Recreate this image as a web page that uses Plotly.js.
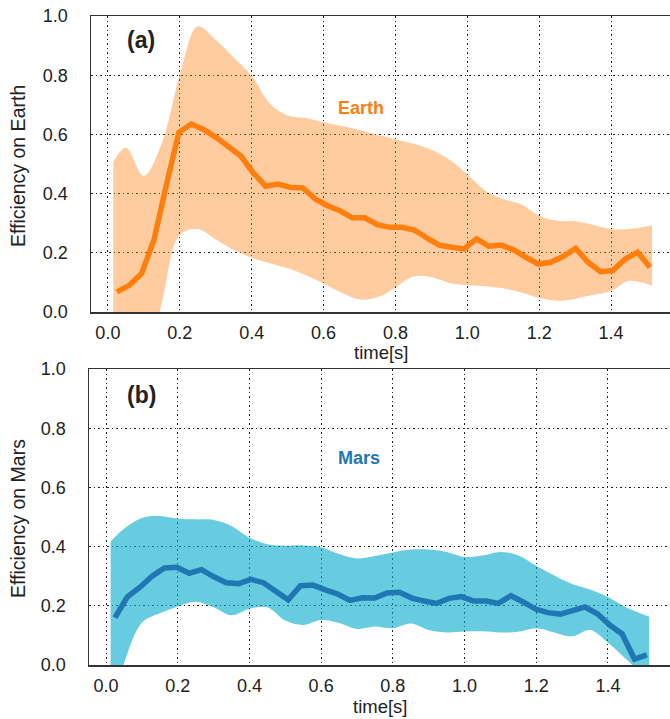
<!DOCTYPE html>
<html>
<head>
<meta charset="utf-8">
<script src="https://cdn.plot.ly/plotly-3.0.1.min.js"></script>
<style>html,body{margin:0;padding:0;background:#fff;}#chart{width:670px;height:719px;}</style>
</head>
<body>
<div id="chart"></div>
<script>
// time samples of the mean curves
var timeMean = [0.025,0.0595,0.094,0.1285,0.163,0.1975,0.232,0.2665,0.301,0.3355,0.370,0.4045,0.439,0.4735,0.508,0.5425,0.577,0.6115,0.646,0.6805,0.715,0.7495,0.784,0.8185,0.853,0.8875,0.922,0.9565,0.991,1.0255,1.060,1.0945,1.129,1.1635,1.198,1.2325,1.267,1.3015,1.336,1.3705,1.405,1.4395,1.474,1.5085];
var earthMean = [0.068,0.09,0.13,0.245,0.43,0.607,0.635,0.617,0.59,0.56,0.527,0.47,0.425,0.432,0.421,0.419,0.382,0.359,0.342,0.318,0.318,0.295,0.286,0.286,0.277,0.25,0.226,0.219,0.213,0.247,0.222,0.226,0.21,0.185,0.162,0.168,0.188,0.215,0.168,0.136,0.14,0.179,0.202,0.151];
var marsMean = [0.16,0.23,0.262,0.3,0.328,0.33,0.31,0.322,0.298,0.278,0.275,0.289,0.278,0.25,0.22,0.268,0.27,0.254,0.24,0.218,0.227,0.226,0.243,0.246,0.226,0.216,0.208,0.225,0.231,0.216,0.216,0.208,0.234,0.213,0.189,0.177,0.172,0.184,0.196,0.173,0.135,0.105,0.02,0.034];

// band (spread) samples
var timeBandEarth = [0.015,0.05,0.1,0.15,0.2,0.25,0.3,0.35,0.4,0.45,0.5,0.55,0.6,0.65,0.7,0.75,0.8,0.85,0.9,0.95,1.0,1.05,1.1,1.15,1.2,1.25,1.3,1.35,1.4,1.45,1.514];
var earthUpper = [0.506,0.556,0.46,0.57,0.80,0.965,0.92,0.86,0.798,0.705,0.664,0.655,0.641,0.628,0.615,0.598,0.584,0.568,0.548,0.515,0.465,0.41,0.382,0.364,0.325,0.308,0.307,0.295,0.28,0.28,0.292];
var earthLower = [-0.5,-0.4,-0.23,0.03,0.26,0.28,0.245,0.21,0.183,0.165,0.148,0.125,0.096,0.065,0.042,0.05,0.083,0.12,0.118,0.098,0.09,0.087,0.08,0.066,0.048,0.038,0.045,0.058,0.072,0.105,0.089];

var timeBandMars = [0.013,0.05,0.1,0.15,0.2,0.25,0.3,0.35,0.4,0.45,0.5,0.55,0.6,0.65,0.7,0.75,0.8,0.85,0.9,0.95,1.0,1.05,1.1,1.15,1.2,1.25,1.3,1.35,1.4,1.45,1.515];
var marsUpper = [0.417,0.46,0.497,0.503,0.494,0.492,0.49,0.47,0.43,0.408,0.403,0.404,0.398,0.375,0.36,0.368,0.38,0.39,0.39,0.382,0.365,0.37,0.382,0.37,0.335,0.302,0.274,0.255,0.23,0.195,0.163];
var marsLower = [-0.15,0.005,0.143,0.175,0.198,0.214,0.195,0.168,0.19,0.195,0.15,0.135,0.152,0.142,0.122,0.13,0.124,0.14,0.118,0.11,0.113,0.114,0.11,0.112,0.124,0.11,0.097,0.118,0.075,0.02,-0.05];

var xTicks = [0,0.2,0.4,0.6,0.8,1.0,1.2,1.4];
var yTicks = [0,0.2,0.4,0.6,0.8,1.0];

var orange = '#ff7f0e', orangeFill = 'rgba(255,127,14,0.4)';
var blue = '#1f77b4', blueFill = 'rgba(2,170,203,0.6)';
var FONT = 'Liberation Sans, Arial, Helvetica, sans-serif';

var traces = [
  {x: timeBandEarth, y: earthLower, xaxis:'x', yaxis:'y', mode:'lines', line:{width:0, shape:'spline', smoothing:1}, hoverinfo:'skip', showlegend:false},
  {x: timeBandEarth, y: earthUpper, xaxis:'x', yaxis:'y', mode:'lines', fill:'tonexty', fillcolor: orangeFill, line:{width:0, shape:'spline', smoothing:1}, hoverinfo:'skip', showlegend:false},
  {x: timeMean, y: earthMean, xaxis:'x', yaxis:'y', mode:'lines', line:{color: orange, width:5.5}, showlegend:false, name:'Earth'},
  {x: timeBandMars, y: marsLower, xaxis:'x2', yaxis:'y2', mode:'lines', line:{width:0, shape:'spline', smoothing:1}, hoverinfo:'skip', showlegend:false},
  {x: timeBandMars, y: marsUpper, xaxis:'x2', yaxis:'y2', mode:'lines', fill:'tonexty', fillcolor: blueFill, line:{width:0, shape:'spline', smoothing:1}, hoverinfo:'skip', showlegend:false},
  {x: timeMean, y: marsMean, xaxis:'x2', yaxis:'y2', mode:'lines', line:{color: blue, width:5.5}, showlegend:false, name:'Mars'}
];

function xAxis(domain, range, anchor){
  return {domain: domain, range: range, anchor: anchor, tickvals: xTicks, tickformat: '.1f',
    showgrid: true, gridcolor: '#222', gridwidth: 1, griddash: '1.5px,3px', zeroline: false,
    showline: true, linecolor: '#333', linewidth: 1.5, mirror: true, ticks: '', ticklabelstandoff: 4,
    tickfont: {family: FONT, size: 18, color: '#222'}};
}
function yAxis(domain, anchor){
  return {domain: domain, range: [0, 1], anchor: anchor, tickvals: yTicks, tickformat: '.1f',
    showgrid: true, gridcolor: '#222', gridwidth: 1, griddash: '1.5px,3px', zeroline: false,
    showline: true, linecolor: '#333', linewidth: 1.5, mirror: false, ticks: '', ticklabelstandoff: 18,
    tickfont: {family: FONT, size: 18, color: '#222'}};
}

var layout = {
  width: 670, height: 719,
  margin: {l: 0, r: 0, t: 0, b: 0},
  paper_bgcolor: '#fff', plot_bgcolor: '#fff',
  font: {family: FONT, size: 18, color: '#222'},
  showlegend: false,
  xaxis: xAxis([91/670, 1], [-0.047, 1.564], 'y'),
  yaxis: yAxis([1 - 312/719, 1 - 16/719], 'x'),
  xaxis2: xAxis([89/670, 1], [-0.0474, 1.573], 'y2'),
  yaxis2: yAxis([1 - 665/719, 1 - 369/719], 'x2'),
  annotations: [
    {text: '(a)', xref:'paper', yref:'paper', x: 141/670, y: 1 - 40/719, xanchor:'center', yanchor:'middle', showarrow:false, font:{family: FONT, size: 23, color:'#222', weight: 'bold'}},
    {text: '(b)', xref:'paper', yref:'paper', x: 141/670, y: 1 - 395/719, xanchor:'center', yanchor:'middle', showarrow:false, font:{family: FONT, size: 23, color:'#222', weight: 'bold'}},
    {text: 'Earth', xref:'paper', yref:'paper', x: 361/670, y: 1 - 108/719, xanchor:'center', yanchor:'middle', showarrow:false, font:{family: FONT, size: 18, color: orange, weight: 'bold'}},
    {text: 'Mars', xref:'paper', yref:'paper', x: 359/670, y: 1 - 458/719, xanchor:'center', yanchor:'middle', showarrow:false, font:{family: FONT, size: 18, color: blue, weight: 'bold'}},
    {text: 'time[s]', xref:'paper', yref:'paper', x: 381/670, y: 1 - 353/719, xanchor:'center', yanchor:'middle', showarrow:false, font:{family: FONT, size: 18.5, color:'#222'}},
    {text: 'time[s]', xref:'paper', yref:'paper', x: 380/670, y: 1 - 706/719, xanchor:'center', yanchor:'middle', showarrow:false, font:{family: FONT, size: 18.5, color:'#222'}},
    {text: 'Efficiency on Earth', xref:'paper', yref:'paper', x: 18/670, y: 1 - 166/719, xanchor:'center', yanchor:'middle', textangle: -90, showarrow:false, font:{family: FONT, size: 19.5, color:'#222'}},
    {text: 'Efficiency on Mars', xref:'paper', yref:'paper', x: 18/670, y: 1 - 519/719, xanchor:'center', yanchor:'middle', textangle: -90, showarrow:false, font:{family: FONT, size: 19.5, color:'#222'}}
  ]
};

Plotly.newPlot('chart', traces, layout, {displayModeBar: false, staticPlot: true});
</script>
</body>
</html>
